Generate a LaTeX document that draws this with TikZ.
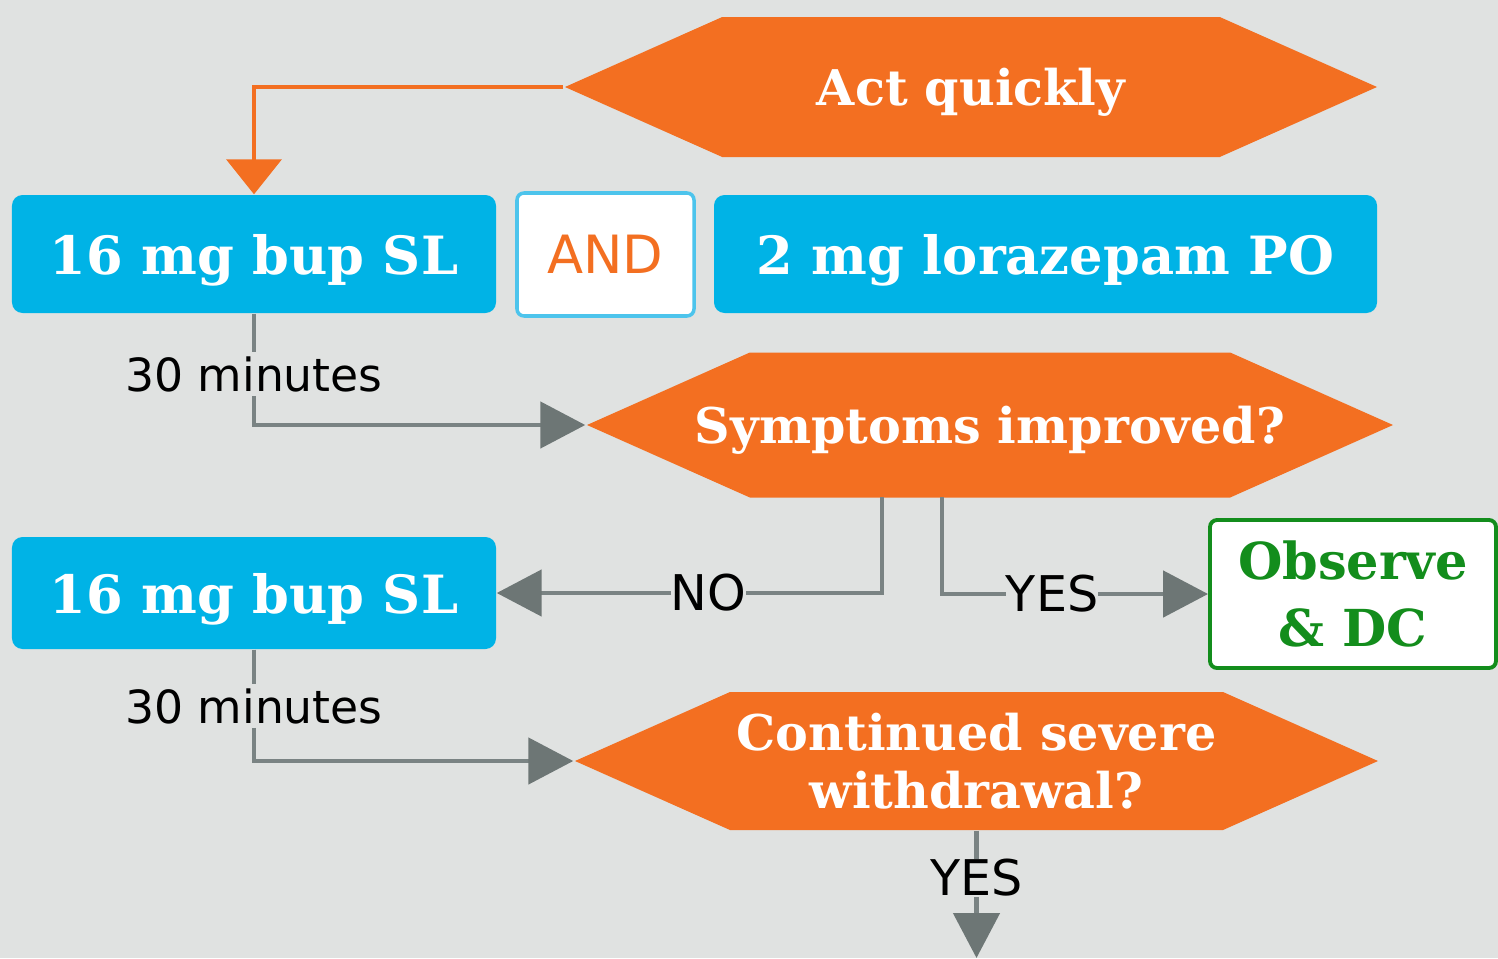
\documentclass[tikz,border=0pt]{standalone}
\usepackage{fontspec}
\setmainfont{DejaVu Serif}
\newfontfamily\labelfont{DejaVu Sans}
\usetikzlibrary{arrows.meta,shapes.symbols}
\definecolor{bggray}{HTML}{E0E2E1}
\definecolor{actorange}{HTML}{F36F21}
\definecolor{dosblue}{HTML}{00B3E6}
\definecolor{andblue}{HTML}{4DC4EC}
\definecolor{okgreen}{HTML}{138D1C}
\definecolor{flowgray}{HTML}{7A8383}
\definecolor{tipgray}{HTML}{6D7675}
\tikzset{
  drugbox/.style={fill=dosblue, rounded corners=3pt, text=white, inner sep=0pt, text depth=0pt,
    font=\bfseries\fontsize{15}{18}\selectfont},
  andbox/.style={fill=white, draw=andblue, line width=1pt, rounded corners=2pt,
    text=actorange, inner sep=0pt, font=\labelfont\fontsize{15}{18}\selectfont},
  okbox/.style={fill=white, draw=okgreen, line width=1.1pt, rounded corners=2pt,
    text=okgreen, inner sep=0pt, align=center, font=\bfseries\fontsize{14.5}{19}\selectfont},
  decision/.style={signal, signal to=west and east, signal pointer angle=48,
    fill=actorange, text=white, inner sep=0pt, align=center,
    font=\bfseries\fontsize{14}{16.5}\selectfont},
  hotflow/.style={draw=actorange, line width=1.1pt, -{Triangle[width=5.5mm,length=3.5mm]}},
  flow/.style={draw=flowgray, line width=1.4pt},
  flowtip/.style={flow, -{Triangle[width=4.6mm,length=4.5mm,color=tipgray]}},
  waitlabel/.style={inner sep=1pt, font=\labelfont\fontsize{13}{15}\selectfont},
  answer/.style={fill=bggray, inner sep=0pt, font=\labelfont\fontsize{14}{16}\selectfont}
}
\begin{document}
\begin{tikzpicture}
	\fill[bggray] (0,0) rectangle (14.98,-9.58);
	\useasboundingbox (0,0) rectangle (14.98,-9.58);

	% first row
	\node[decision, text depth=0pt, minimum width=8.12cm, minimum height=1.40cm] (act) at (9.71,-0.87) {Act quickly};
	\node[drugbox, minimum width=4.84cm, minimum height=1.18cm] (bup1) at (2.54,-2.54) {16 mg bup SL};
	\node[andbox, minimum width=1.77cm, minimum height=1.23cm] (and) at (6.055,-2.545) {AND};
	\node[drugbox, minimum width=6.63cm, minimum height=1.18cm] (lora) at (10.455,-2.54) {2 mg lorazepam PO};

	% after half an hour
	\node[waitlabel] (wait1) at (2.54,-3.74) {30 minutes};
	\node[decision, text depth=0pt, minimum width=8.06cm, minimum height=1.45cm] (better) at (9.90,-4.25) {\makebox[0pt][c]{Symptoms improved?}};
	\coordinate (noout) at (8.82,-4.97);
	\coordinate (yesout) at (9.42,-4.97);
	\node[drugbox, minimum width=4.84cm, minimum height=1.12cm] (bup2) at (2.54,-5.93) {16 mg bup SL};
	\node[okbox, minimum width=2.86cm, minimum height=1.48cm] (observe) at (13.53,-5.94) {Observe\\\& DC};

	% second check
	\node[waitlabel] (wait2) at (2.54,-7.06) {30 minutes};
	\node[decision, minimum width=8.03cm, minimum height=1.38cm] (severe) at (9.765,-7.61) {Continued severe\\withdrawal?};
	\node[answer] (yesdown) at (9.765,-8.78) {YES};
	\coordinate (next) at (9.765,-9.58);

	\draw[hotflow] (act.west) -| (bup1.north);
	\draw[flow] (bup1.south) -- (wait1.north);
	\draw[flowtip] (wait1.south) |- (better.west);
	\draw[flowtip] (noout) |- node[answer, pos=.725] {NO} (bup2.east);
	\draw[flowtip] (yesout) |- node[answer, pos=.707] {YES} (observe.west);
	\draw[flow] (bup2.south) -- (wait2.north);
	\draw[flowtip] (wait2.south) |- (severe.west);
	\draw[flow] (severe.south) -- (yesdown.north);
	\draw[flowtip] (yesdown.south) -- (next);
\end{tikzpicture}
\end{document}
